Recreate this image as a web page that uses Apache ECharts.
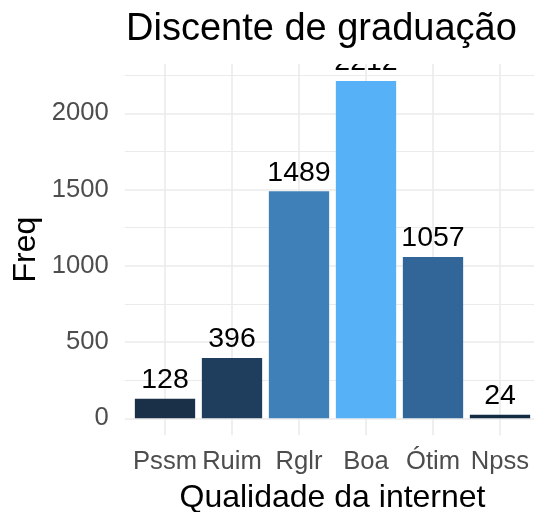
<!DOCTYPE html>
<html>
<head>
<meta charset="utf-8">
<script src="https://cdn.jsdelivr.net/npm/echarts@6/dist/echarts.min.js"></script>
<style>
  html, body { margin: 0; padding: 0; background: #fff; }
  #main { width: 534px; height: 512px; }
</style>
</head>
<body>
<div id="main"></div>
<script>
// dados
var categorias = ['Pssm', 'Ruim', 'Rglr', 'Boa', 'Ótim', 'Npss'];
var freq = [128, 396, 1489, 2212, 1057, 24];
// cor de cada barra (escala continua do ggplot)
var coresBarras = ['#1a3049', '#1f3e5e', '#3e80b7', '#56b1f7', '#326698', '#132b43'];

var fonte = 'Liberation Sans';
var corGrade = '#ebebeb';

var myChart = echarts.init(document.getElementById('main'));

var option = {
    backgroundColor: '#fff',
    animation: false,
    textStyle: { fontFamily: fonte },
    title: {
        text: 'Discente de graduação',
        left: 121,
        top: 6,
        z: 100,
        textStyle: { fontFamily: fonte, fontSize: 38, fontWeight: 'normal', color: '#000' }
    },
    // mascara: corta o rotulo acima do painel
    graphic: [{
        type: 'rect',
        z: 50,
        shape: { x: 0, y: 0, width: 534, height: 64 },
        style: { fill: '#fff' }
    }],
    grid: [
        { left: 131.5, top: 64.1, width: 402, height: 371.1, outerBoundsMode: 'none' },   // barras
        { left: 124.8, top: 113.3, width: 415.2, height: 305, outerBoundsMode: 'none' },  // grade maior
        { left: 124.8, top: 75.2, width: 415.2, height: 305, outerBoundsMode: 'none' },   // grade menor
        { left: 165, top: 64.1, width: 335, height: 371.1, outerBoundsMode: 'none' }      // grade vertical
    ],
    xAxis: [
        { gridIndex: 0, type: 'category', data: categorias, show: false },
        { gridIndex: 1, type: 'value', show: false },
        { gridIndex: 2, type: 'value', show: false },
        {
            gridIndex: 3,
            type: 'category',
            data: categorias,
            boundaryGap: false,
            axisLine: { show: false },
            axisTick: { show: false },
            axisLabel: { interval: 0, margin: 14, color: '#4d4d4d', fontSize: 25.6, fontFamily: fonte },
            splitLine: { show: true, lineStyle: { color: corGrade, width: 1.6 } },
            name: 'Qualidade da internet',
            nameLocation: 'middle',
            nameGap: 47,
            nameTextStyle: { fontSize: 32, color: '#000', fontFamily: fonte }
        }
    ],
    yAxis: [
        {
            gridIndex: 0,
            type: 'value',
            min: -110.6,
            max: 2322.6,
            axisLine: { show: false },
            axisTick: { show: false },
            axisLabel: { show: false },
            splitLine: { show: false },
            name: 'Freq',
            nameLocation: 'middle',
            nameGap: 89,
            nameTextStyle: { fontSize: 32, color: '#000', fontFamily: fonte }
        },
        {
            gridIndex: 1,
            type: 'value',
            min: 0,
            max: 2000,
            interval: 500,
            axisLine: { show: false },
            axisTick: { show: false },
            axisLabel: {
                margin: 16, color: '#4d4d4d', fontSize: 25.6, fontFamily: fonte,
                formatter: function (v) { return String(v); }
            },
            splitLine: { show: true, lineStyle: { color: corGrade, width: 1.6 } }
        },
        {
            gridIndex: 2,
            type: 'value',
            min: 250,
            max: 2250,
            interval: 500,
            axisLine: { show: false },
            axisTick: { show: false },
            axisLabel: { show: false },
            splitLine: { show: true, lineStyle: { color: corGrade, width: 1.1 } }
        },
        { gridIndex: 3, type: 'value', show: false }
    ],
    series: [
        {
            type: 'bar',
            xAxisIndex: 0,
            yAxisIndex: 0,
            barWidth: '90%',
            z: 3,
            data: freq.map(function (v, i) {
                return { value: v, itemStyle: { color: coresBarras[i] } };
            }),
            label: {
                show: true,
                position: 'top',
                distance: 4,
                fontSize: 28.5,
                color: '#000',
                fontFamily: fonte
            }
        }
    ]
};

myChart.setOption(option);
</script>
</body>
</html>
